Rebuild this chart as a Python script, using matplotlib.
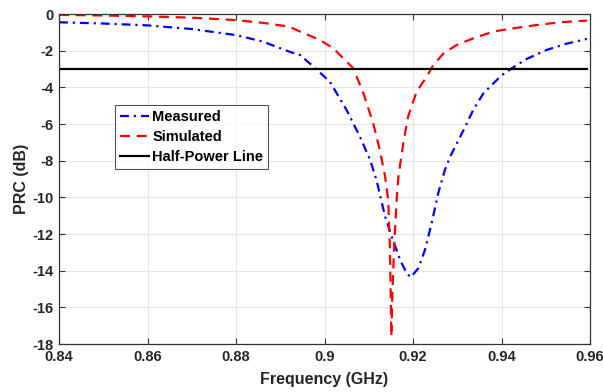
import matplotlib
matplotlib.use("Agg")
import matplotlib.pyplot as plt

# Measured (blue dash-dot)
meas_f = [0.8400, 0.8500, 0.8600, 0.8700, 0.8800, 0.8860, 0.8920, 0.8945, 0.8975, 0.9012,
          0.9050, 0.9080, 0.9103, 0.9118, 0.9137, 0.9152, 0.9171, 0.9186, 0.9195, 0.9212,
          0.9227, 0.9242, 0.9257, 0.9272, 0.9284, 0.9318, 0.9336, 0.9359, 0.9381, 0.9400,
          0.9424, 0.9457, 0.9502, 0.9547, 0.9593]
meas_db = [-0.45, -0.52, -0.62, -0.82, -1.15, -1.50, -2.05, -2.24, -2.87, -3.69,
           -5.24, -6.69, -7.95, -9.1, -11.05, -12.15, -13.42, -14.15, -14.36, -13.87,
           -12.87, -11.42, -9.78, -8.51, -7.78, -6.15, -5.24, -4.33, -3.80, -3.35,
           -2.95, -2.45, -1.96, -1.62, -1.36]

# Simulated (red dashed)
sim_f = [0.8400, 0.8500, 0.8600, 0.8700, 0.8800, 0.8860, 0.8920, 0.8945, 0.8990, 0.9020,
         0.9050, 0.9065, 0.9088, 0.9110, 0.9125, 0.9137, 0.9144, 0.9148, 0.9151, 0.9153,
         0.9157, 0.9163, 0.9167, 0.9178, 0.9189, 0.9208, 0.9231, 0.9246, 0.9269, 0.9299,
         0.9336, 0.9381, 0.9427, 0.9480, 0.9532, 0.9593]
sim_db = [-0.05, -0.08, -0.13, -0.20, -0.33, -0.48, -0.69, -0.96, -1.42, -1.87,
          -2.60, -2.96, -4.33, -5.96, -7.42, -8.87, -10.15, -12.87, -17.6, -15.6,
          -12.87, -10.15, -8.87, -7.05, -5.60, -4.24, -3.42, -2.78, -2.15, -1.69,
          -1.33, -0.96, -0.78, -0.60, -0.45, -0.36]

half_power = -3.0
xticks = [0.84, 0.86, 0.88, 0.90, 0.92, 0.94, 0.96]
xticklabels = ["0.84", "0.86", "0.88", "0.9", "0.92", "0.94", "0.96"]
yticks = [0, -2, -4, -6, -8, -10, -12, -14, -16, -18]

plt.rcParams['font.family'] = ['Liberation Sans', 'DejaVu Sans']
plt.rcParams['font.weight'] = 'bold'
plt.rcParams['axes.unicode_minus'] = False

fig = plt.figure(figsize=(6.03, 3.92), dpi=100)
ax = fig.add_axes([59/603, 48/392, 531/603, 330/392])

ax.plot(meas_f, meas_db, color='#0000ff', linestyle=(0, (4, 2.2, 1, 2.2)), linewidth=1.6, label='Measured')
ax.plot(sim_f, sim_db, color='#ff0000', linestyle=(0, (4.5, 3)), linewidth=1.6, label='Simulated')
ax.plot([0.84, 0.9593], [half_power, half_power], color='black', linewidth=1.6, label='Half-Power Line')

ax.set_xlim(0.84, 0.96)
ax.set_ylim(-18, 0)
ax.set_xticks(xticks)
ax.set_xticklabels(xticklabels)
ax.set_yticks(yticks)
ax.set_yticklabels([str(v) for v in yticks])
ax.grid(True, color='#e6e6e6', linewidth=0.8)
ax.set_axisbelow(True)
ax.tick_params(direction='in', top=True, right=True, labelsize=10.5, length=4,
               color='#333333', width=0.8, pad=4)
for lab in ax.get_xticklabels() + ax.get_yticklabels():
    lab.set_fontweight('bold')
    lab.set_color('#262626')
for s in ax.spines.values():
    s.set_color('#333333')
    s.set_linewidth(0.9)

ax.set_xlabel('Frequency (GHz)', fontsize=11.5, fontweight='bold', color='#262626', labelpad=6)
ax.set_ylabel('PRC (dB)', fontsize=11.5, fontweight='bold', color='#262626', labelpad=2)

leg = ax.legend(loc='upper left', bbox_to_anchor=((115-59)/531, (344-105)/330),
                fontsize=10.5, frameon=True, fancybox=False, edgecolor='#262626',
                handlelength=2.0, handletextpad=0.2, borderpad=0.35, labelspacing=0.4,
                borderaxespad=0)
leg.get_frame().set_linewidth(0.8)
for t in leg.get_texts():
    t.set_fontweight('bold')

fig.savefig('out.png', dpi=100)
